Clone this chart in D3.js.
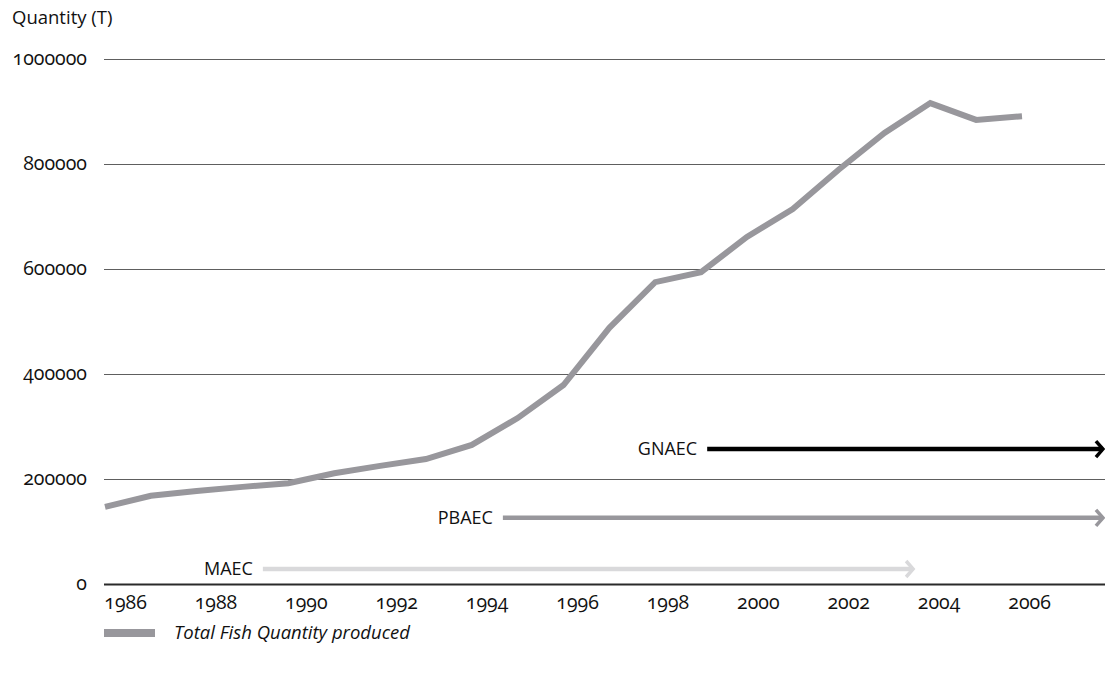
<!DOCTYPE html>
<html>
<head>
<meta charset="utf-8">
<script src="https://cdn.jsdelivr.net/npm/d3@7"></script>
<style>
  body { margin: 0; background: #fff; }
  svg text { font-family: "Open Sans", "Noto Sans", sans-serif; fill: #111; font-variant-numeric: oldstyle-nums; }
</style>
</head>
<body>
<div id="chart"></div>
<script>
// 数据
const years = [1986, 1987, 1988, 1989, 1990, 1991, 1992, 1993, 1994, 1995, 1996,
               1997, 1998, 1999, 2000, 2001, 2002, 2003, 2004, 2005, 2006];
const quantity = [147000, 168000, 177000, 185000, 192000, 211000, 225000, 238000, 265000, 316000, 379000,
                  488000, 575000, 594000, 661000, 714000, 789000, 859000, 916000, 884000, 891000];
const yTicks = [0, 200000, 400000, 600000, 800000, 1000000];
const xTicks = [1986, 1988, 1990, 1992, 1994, 1996, 1998, 2000, 2002, 2004, 2006];

// 计划 (箭头)
const programs = ['MAEC', 'PBAEC', 'GNAEC'];
const programStart = [1989.05, 1994.36, 1998.88];
const programEnd = [2003.48, 2007.68, 2007.68];
const programLevel = [28600, 126000, 257000];
const programColor = ['#d9d9db', '#98979c', '#000000'];

const width = 1105, height = 675;
const plot = { left: 104, right: 1105, top: 59, bottom: 584 };

const svg = d3.select('#chart').append('svg')
  .attr('width', width)
  .attr('height', height);

const y = d3.scaleLinear().domain([0, 1000000]).range([plot.bottom, plot.top]);
const xAxisScale = d3.scaleLinear().domain([1986, 2006]).range([125, 1029]);
const xLine = d3.scalePoint().domain(years).range([105, 1022]);

// 网格线
svg.append('g')
  .attr('class', 'grid')
  .attr('transform', `translate(${plot.left},0)`)
  .call(d3.axisLeft(y).tickValues(yTicks).tickSize(-(plot.right - plot.left)).tickFormat(''))
  .call(g => g.select('.domain').remove())
  .call(g => g.selectAll('line')
    .attr('stroke', d => d === 0 ? '#2a2a2a' : '#5e5e5e')
    .attr('stroke-width', d => d === 0 ? 1.8 : 1.2));

// Y轴标签
svg.append('g')
  .selectAll('text')
  .data(yTicks)
  .enter()
  .append('text')
  .attr('x', 87)
  .attr('y', d => y(d))
  .attr('dy', '0.3em')
  .attr('text-anchor', 'end')
  .style('font-size', '19.5px')
  .text(d => d);

svg.append('text')
  .attr('x', 12)
  .attr('y', 24)
  .style('font-size', '18.5px')
  .text('Quantity (T)');

// X轴
svg.append('g')
  .attr('transform', `translate(0,${plot.bottom})`)
  .call(d3.axisBottom(xAxisScale).tickValues(xTicks).tickSize(0).tickPadding(11).tickFormat(d => d))
  .call(g => g.select('.domain').remove())
  .call(g => g.selectAll('text').style('font-size', '19.5px').attr('fill', '#111'));

// 箭头
programs.forEach((name, i) => {
  const ay = y(programLevel[i]);
  const x0 = xAxisScale(programStart[i]);
  const x1 = xAxisScale(programEnd[i]);
  svg.append('line')
    .attr('x1', x0).attr('x2', x1 - 2)
    .attr('y1', ay).attr('y2', ay)
    .attr('stroke', programColor[i])
    .attr('stroke-width', 4.5);
  svg.append('path')
    .attr('d', `M${x1 - 9},${ay - 8}L${x1 - 2},${ay}L${x1 - 9},${ay + 8}`)
    .attr('fill', 'none')
    .attr('stroke', programColor[i])
    .attr('stroke-width', 3.5);
  svg.append('text')
    .attr('x', x0 - 10)
    .attr('y', ay)
    .attr('dy', '0.35em')
    .attr('text-anchor', 'end')
    .style('font-size', '18px')
    .text(name);
});

// 折线
const line = d3.line()
  .x((d, i) => xLine(years[i]))
  .y(d => y(d));

svg.append('path')
  .datum(quantity)
  .attr('fill', 'none')
  .attr('stroke', '#98979c')
  .attr('stroke-width', 6)
  .attr('d', line);

// 图例
const legend = svg.append('g').attr('transform', 'translate(104,633)');
legend.append('rect')
  .attr('x', 0).attr('y', -4)
  .attr('width', 51).attr('height', 8)
  .attr('fill', '#98979c');
legend.append('text')
  .attr('x', 70)
  .attr('y', 0)
  .attr('dy', '0.35em')
  .style('font-size', '18.5px')
  .style('font-style', 'italic')
  .text('Total Fish Quantity produced');
</script>
</body>
</html>
